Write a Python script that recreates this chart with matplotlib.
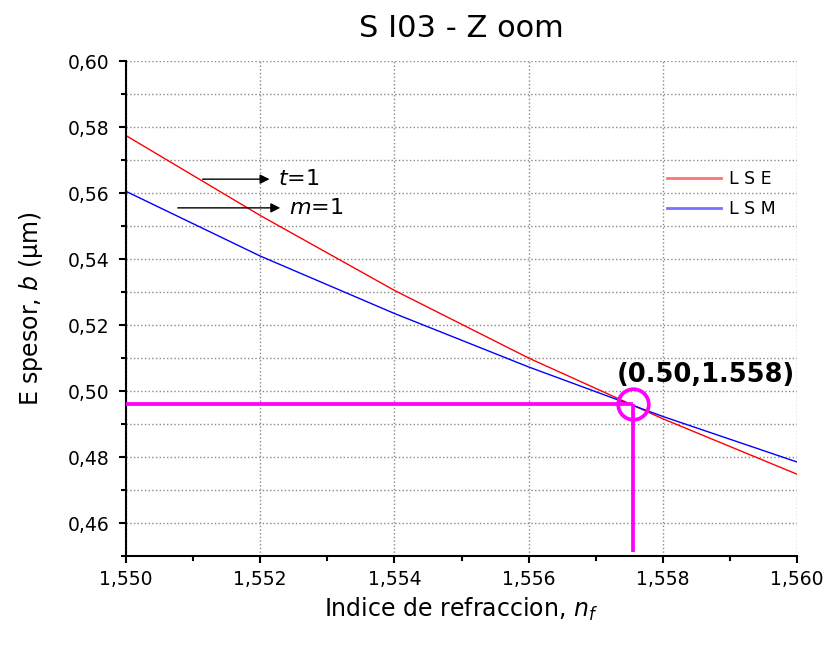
import matplotlib.pyplot as plt
from matplotlib.ticker import MultipleLocator, FuncFormatter

# refractive index samples and thickness for each method
n_f = [1.550, 1.552, 1.554, 1.556, 1.558, 1.560]
b_lse = [0.5774, 0.5532, 0.5305, 0.5100, 0.4916, 0.4748]
b_lsm = [0.5605, 0.5409, 0.5235, 0.5073, 0.4923, 0.4785]

# solution point (thickness, index)
sol_b = 0.4961
sol_n = 1.55755

plt.rcParams['font.family'] = ['DejaVu Sans']
plt.rcParams['mathtext.fontset'] = 'dejavusans'

fig = plt.figure(figsize=(8.27, 6.54), dpi=100)
ax = fig.add_axes([0.1524, 0.1498, 0.8113, 0.7569])

ax.plot(n_f, b_lse, color='red', lw=1.0, label='L S E')
ax.plot(n_f, b_lsm, color='blue', lw=1.0, label='L S M')

# marker lines for the crossing point
ax.plot([n_f[0], sol_n], [sol_b, sol_b], color='magenta', lw=2.7, solid_capstyle='butt', zorder=4)
ax.plot([sol_n, sol_n], [sol_b, 0.4512], color='magenta', lw=2.7, solid_capstyle='butt', zorder=4)
ax.plot([sol_n], [sol_b], marker='o', ms=22, mfc='none', mec='magenta', mew=2.7, zorder=5)
ax.text(1.55997, 0.5008, f'({sol_b:.2f},{sol_n:.3f})', fontsize=18.5, fontweight='bold',
        ha='right', va='bottom')

# order labels
ax.annotate('', xy=(1.55218, 0.5642), xytext=(1.5511, 0.5642),
            arrowprops=dict(arrowstyle='-|>', color='black', lw=1, mutation_scale=14))
ax.text(1.55227, 0.5642, r'$t$=1', fontsize=16, va='center', ha='left')
ax.annotate('', xy=(1.55234, 0.5555), xytext=(1.55073, 0.5555),
            arrowprops=dict(arrowstyle='-|>', color='black', lw=1, mutation_scale=14))
ax.text(1.55243, 0.5555, r'$m$=1', fontsize=16, va='center', ha='left')

ax.set_xlim(1.550, 1.560)
ax.set_ylim(0.45, 0.60)
ax.xaxis.set_major_locator(MultipleLocator(0.002))
ax.xaxis.set_minor_locator(MultipleLocator(0.001))
ax.yaxis.set_major_locator(MultipleLocator(0.02))
ax.yaxis.set_minor_locator(MultipleLocator(0.01))
ax.xaxis.set_major_formatter(FuncFormatter(lambda v, p: f'{v:.3f}'.replace('.', ',')))
ax.yaxis.set_major_formatter(FuncFormatter(lambda v, p: f'{v:.2f}'.replace('.', ',')))

ax.grid(which='major', axis='x', linestyle=':', color='#888888', lw=1)
ax.grid(which='both', axis='y', linestyle=':', color='#888888', lw=1)

for s in ['top', 'right']:
    ax.spines[s].set_visible(False)
for s in ['left', 'bottom']:
    ax.spines[s].set_linewidth(1.5)
ax.tick_params(which='major', length=5, width=1.5, labelsize=13.5, pad=7)
ax.tick_params(axis='x', which='major', pad=5)
ax.tick_params(which='minor', length=3.5, width=1.5)

ax.set_title('S I03 - Z oom', fontsize=22, pad=17)
ax.set_xlabel(r'Indice de refraccion, $n_f$', fontsize=17, labelpad=5)
ax.set_ylabel(r'E spesor, $b$ (μm)', fontsize=17, labelpad=16)

leg = ax.legend(loc='upper left', bbox_to_anchor=(0.806, 0.779), frameon=False,
                fontsize=12.5, handlelength=3.1, handletextpad=0.5, labelspacing=0.65,
                borderpad=0, borderaxespad=0)
for line in leg.get_lines():
    line.set_alpha(0.55)
    line.set_linewidth(2)

fig.savefig('out.png', dpi=100)
